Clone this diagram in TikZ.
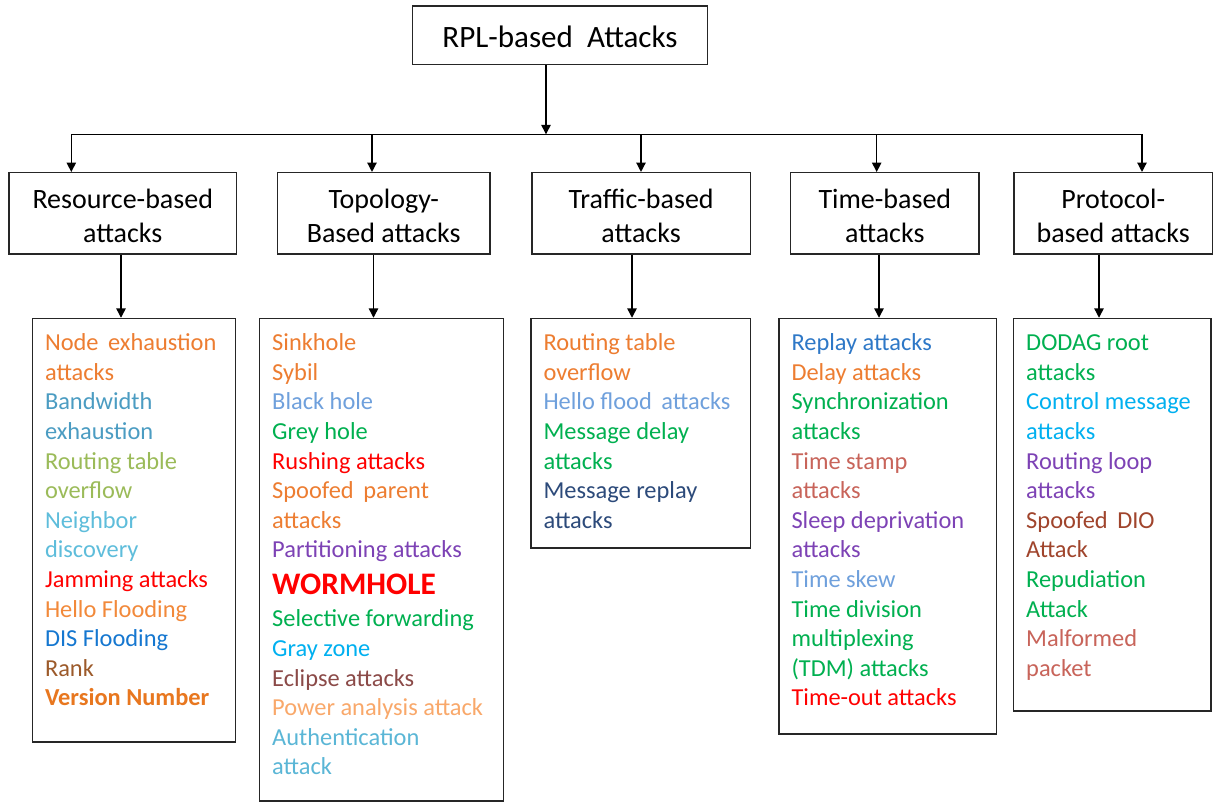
\documentclass[tikz,border=0pt]{standalone}
\usepackage{fontspec}
\setmainfont{Carlito}
\usetikzlibrary{arrows.meta,fit}

% item colours
\definecolor{cOrange}{HTML}{ED7D31}
\definecolor{cLightOrange}{HTML}{F2893A}
\definecolor{cDarkOrange}{HTML}{E8771F}
\definecolor{cTeal}{HTML}{4B9CC2}
\definecolor{cOlive}{HTML}{9BBB59}
\definecolor{cSky}{HTML}{5EBDDB}
\definecolor{cSkyB}{HTML}{5AB6D6}
\definecolor{cRed}{HTML}{FF0000}
\definecolor{cBlue}{HTML}{1577D0}
\definecolor{cBrown}{HTML}{9C5A2A}
\definecolor{cCorn}{HTML}{6FA0DC}
\definecolor{cGreen}{HTML}{00B050}
\definecolor{cPurple}{HTML}{7D42B5}
\definecolor{cCyan}{HTML}{00B0F0}
\definecolor{cEclipse}{HTML}{8B4A48}
\definecolor{cPeach}{HTML}{F9A86A}
\definecolor{cNavy}{HTML}{2C4A7A}
\definecolor{cRoyal}{HTML}{2E78C7}
\definecolor{cRose}{HTML}{C8645A}
\definecolor{cRust}{HTML}{A0442C}

\begin{document}
\begin{tikzpicture}[x=0.75pt,y=-0.75pt,
  frame/.style={draw=black!85, line width=1.1pt, inner sep=0pt, fill=white},
  conn/.style={line width=1pt, draw=black},
  arr/.style={conn, -{Triangle[width=7pt,length=7pt]}},
  cattext/.style={font=\fontsize{21}{25}\selectfont, align=center, inner sep=0pt},
  items/.style={font=\fontsize{18.3}{22.2}\selectfont, align=left, inner sep=0pt, anchor=north west},
]
\useasboundingbox (0,0) rectangle (1214,803);

% root
\node[frame, fit={(412.5,6) (707.5,64.3)}] (root) {};
\node[inner sep=0pt, font=\fontsize{23.3}{28}\selectfont] (root-t) at ([shift={(0,1.5)}]root.center) {RPL-based\ \ Attacks};

% category boxes
\node[frame, fit={(9,172.7) (236.5,254)}] (res) {};
\node[frame, fit={(277.5,172.7) (490,254)}] (topo) {};
\node[frame, fit={(531.8,172.7) (750.4,254)}] (traf) {};
\node[frame, fit={(790.7,172.7) (979,254)}] (time) {};
\node[frame, fit={(1014,172.7) (1212.4,254)}] (prot) {};

\node[cattext] (res-t)  at ([shift={(0,5.5)}]res.center)  {\strut Resource-based\\attacks\strut};
\node[cattext] (topo-t) at ([shift={(0,5.5)}]topo.center) {\strut Topology-\\Based attacks\strut};
\node[cattext] (traf-t) at ([shift={(0,5.5)}]traf.center) {\strut Traffic-based\\attacks\strut};
\node[cattext] (time-t) at ([shift={(0,5.5)}]time.center) {\strut Time-based\\attacks\strut};
\node[cattext] (prot-t) at ([shift={(0,5.5)}]prot.center) {\strut Protocol-\\based attacks\strut};

% list boxes
\node[frame, fit={(32.5,318.5) (235.7,742)}] (reslist) {};
\node[frame, fit={(259.7,318.5) (503.5,801)}] (topolist) {};
\node[frame, fit={(531,318.5) (750.7,548)}] (traflist) {};
\node[frame, fit={(779,318.5) (996.7,734)}] (timelist) {};
\node[frame, fit={(1013.7,318.5) (1211,711)}] (protlist) {};

\node[items] (res-i) at ([shift={(13,12)}]reslist.north west) {%
\strut\textcolor{cOrange}{Node\ \,exhaustion}\\
\textcolor{cOrange}{attacks}\\
\textcolor{cTeal}{Bandwidth}\\
\textcolor{cTeal}{exhaustion}\\
\textcolor{cOlive}{Routing table}\\
\textcolor{cOlive}{overflow}\\
\textcolor{cSky}{Neighbor}\\
\textcolor{cSky}{discovery}\\
\textcolor{cRed}{Jamming attacks}\\
\textcolor{cLightOrange}{Hello Flooding}\\
\textcolor{cBlue}{DIS Flooding}\\
\textcolor{cBrown}{Rank}\\
\textcolor{cDarkOrange}{\bfseries Version Number}};

\node[items] (topo-i) at ([shift={(13,12)}]topolist.north west) {%
\strut\textcolor{cOrange}{Sinkhole}\\
\textcolor{cOrange}{Sybil}\\
\textcolor{cCorn}{Black hole}\\
\textcolor{cGreen}{Grey hole}\\
\textcolor{cRed}{Rushing attacks}\\
\textcolor{cOrange}{Spoofed\ \,parent}\\
\textcolor{cOrange}{attacks}\\
\textcolor{cPurple}{Partitioning attacks}\\[5.5pt]
\textcolor{cRed}{\fontsize{23.5}{27}\selectfont\bfseries WORMHOLE}\\[1.8pt]
\textcolor{cGreen}{Selective forwarding}\\
\textcolor{cCyan}{Gray zone}\\
\textcolor{cEclipse}{Eclipse attacks}\\
\textcolor{cPeach}{Power analysis attack}\\
\textcolor{cSkyB}{Authentication}\\
\textcolor{cSkyB}{attack}};

\node[items] (traf-i) at ([shift={(13,12)}]traflist.north west) {%
\strut\textcolor{cOrange}{Routing table}\\
\textcolor{cOrange}{overflow}\\
\textcolor{cCorn}{Hello flood\ \,attacks}\\
\textcolor{cGreen}{Message delay}\\
\textcolor{cGreen}{attacks}\\
\textcolor{cNavy}{Message replay}\\
\textcolor{cNavy}{attacks}};

\node[items] (time-i) at ([shift={(13,12)}]timelist.north west) {%
\strut\textcolor{cRoyal}{Replay attacks}\\
\textcolor{cOrange}{Delay attacks}\\
\textcolor{cGreen}{Synchronization}\\
\textcolor{cGreen}{attacks}\\
\textcolor{cRose}{Time stamp}\\
\textcolor{cRose}{attacks}\\
\textcolor{cPurple}{Sleep deprivation}\\
\textcolor{cPurple}{attacks}\\
\textcolor{cCorn}{Time skew}\\
\textcolor{cGreen}{Time division}\\
\textcolor{cGreen}{multiplexing}\\
\textcolor{cGreen}{(TDM) attacks}\\
\textcolor{cRed}{Time-out attacks}};

\node[items] (prot-i) at ([shift={(13,12)}]protlist.north west) {%
\strut\textcolor{cGreen}{DODAG root}\\
\textcolor{cGreen}{attacks}\\
\textcolor{cCyan}{Control message}\\
\textcolor{cCyan}{attacks}\\
\textcolor{cPurple}{Routing loop}\\
\textcolor{cPurple}{attacks}\\
\textcolor{cRust}{Spoofed\ \,DIO}\\
\textcolor{cRust}{Attack}\\
\textcolor{cGreen}{Repudiation}\\
\textcolor{cGreen}{Attack}\\
\textcolor{cRose}{Malformed}\\
\textcolor{cRose}{packet}};

% bus and drop points
\coordinate (bus) at (546,134.3);
\coordinate (d1) at (71.3,134.3);
\coordinate (d2) at (372,134.3);
\coordinate (d3) at (641,134.3);
\coordinate (d4) at (876.7,134.3);
\coordinate (d5) at (1142,134.3);

\draw[conn] (d1) -- (d5);
\draw[arr] (root.south -| bus) -- (bus);
\foreach \d/\n in {d1/res, d2/topo, d3/traf, d4/time, d5/prot}
  \draw[arr] (\d) -- (\d |- \n.north);

% category to list connectors
\coordinate (x1) at (121,0);
\coordinate (x2) at (373.5,0);
\coordinate (x3) at (632,0);
\coordinate (x4) at (879,0);
\coordinate (x5) at (1099,0);
\foreach \x/\a/\b in {x1/res/reslist, x2/topo/topolist, x3/traf/traflist, x4/time/timelist, x5/prot/protlist}
  \draw[arr] (\a.south -| \x) -- (\b.north -| \x);
\end{tikzpicture}
\end{document}
